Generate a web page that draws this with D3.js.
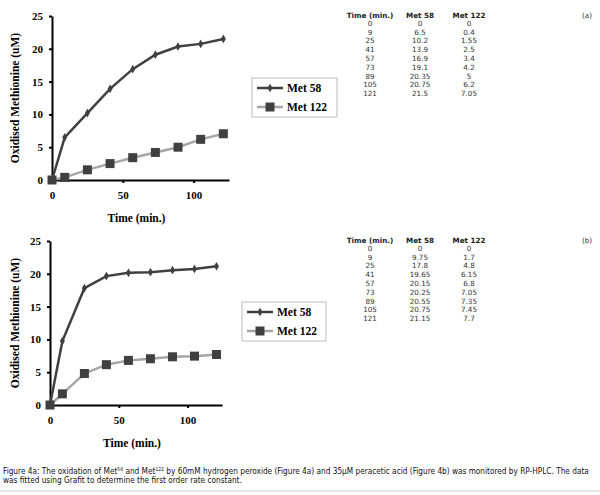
<!DOCTYPE html>
<html>
<head>
<meta charset="utf-8">
<title>Figure 4 - Oxidation of Met58 and Met122</title>
<script src="https://cdn.jsdelivr.net/npm/d3@7"></script>
<style>
  body { margin: 0; background: #fff; }
  svg { display: block; }
  .axis path, .axis line { stroke: #000; stroke-width: 2px; }
  .axis text { font-family: "Liberation Serif", serif; font-weight: bold; font-size: 11px; fill: #000; }
  .lbl { font-family: "Liberation Serif", serif; font-weight: bold; font-size: 11.5px; fill: #000; }
  .tbl { font-family: "DejaVu Sans", sans-serif; font-size: 7.2px; fill: #333; }
  .tblh { font-weight: bold; fill: #222; }
  .cap { font-family: "DejaVu Sans Condensed", "DejaVu Sans", sans-serif; font-size: 8.2px; fill: #111; }
</style>
</head>
<body>
<script>
// values as listed in the tables next to each plot
var times = [0, 9, 25, 41, 57, 73, 89, 105, 121];
var met58A = [0, 6.5, 10.2, 13.9, 16.9, 19.1, 20.35, 20.75, 21.5];
var met122A = [0, 0.4, 1.55, 2.5, 3.4, 4.2, 5, 6.2, 7.05];
var met58B = [0, 9.75, 17.8, 19.65, 20.15, 20.25, 20.55, 20.75, 21.15];
var met122B = [0, 1.7, 4.8, 6.15, 6.8, 7.05, 7.35, 7.45, 7.7];
var seriesNames = ["Met 58", "Met 122"];
var tableHeader = ["Time (min.)", "Met 58", "Met 122"];
var xTicks = [0, 50, 100];
var yTicks = [0, 5, 10, 15, 20, 25];

var svg = d3.select("body").append("svg")
    .attr("width", 600)
    .attr("height", 495);

var dark = "#404040";
var light = "#a6a6a6";

var panel = function(opt){
    var x = d3.scaleLinear().domain([0, 125]).range([opt.x0, opt.x1]);
    var y = d3.scaleLinear().domain([0, 25]).range([opt.y0, opt.y1]);

    svg.append("g")
       .attr("class", "axis")
       .attr("transform", "translate(0," + opt.y0 + ")")
       .call(d3.axisBottom(x).tickValues(xTicks).tickSize(3).tickPadding(8).tickSizeOuter(0));

    svg.append("g")
       .attr("class", "axis")
       .attr("transform", "translate(" + opt.x0 + ",0)")
       .call(d3.axisLeft(y).tickValues(yTicks).tickSize(3).tickPadding(6).tickSizeOuter(0));

    svg.append("text")
       .attr("class", "lbl")
       .attr("text-anchor", "middle")
       .attr("transform", "translate(19," + (opt.y0 + opt.y1) / 2 + ") rotate(-90)")
       .text("Oxidised Methionine (uM)");

    svg.append("text")
       .attr("class", "lbl")
       .attr("text-anchor", "middle")
       .attr("x", (opt.x0 + opt.x1) / 2 - 4)
       .attr("y", opt.y0 + 42)
       .text("Time (min.)");

    var line = d3.line()
        .x(function(d, i){ return x(times[i]); })
        .y(function(d){ return y(d); });

    svg.append("path")
       .datum(opt.b)
       .attr("d", line)
       .attr("fill", "none")
       .attr("stroke", light)
       .attr("stroke-width", 2.5);

    svg.append("g").selectAll("rect")
       .data(opt.b)
       .enter()
       .append("rect")
       .attr("x", function(d, i){ return x(times[i]) - 4.5; })
       .attr("y", function(d){ return y(d) - 4.5; })
       .attr("width", 9)
       .attr("height", 9)
       .attr("fill", dark);

    svg.append("path")
       .datum(opt.a)
       .attr("d", line)
       .attr("fill", "none")
       .attr("stroke", dark)
       .attr("stroke-width", 2.5);

    svg.append("g").selectAll("path")
       .data(opt.a)
       .enter()
       .append("path")
       .attr("d", d3.symbol().type(d3.symbolDiamond).size(22))
       .attr("transform", function(d, i){ return "translate(" + x(times[i]) + "," + y(d) + ")"; })
       .attr("fill", dark);

    // legend
    var lg = svg.append("g").attr("transform", "translate(" + opt.lx + "," + opt.ly + ")");
    lg.append("rect")
      .attr("width", opt.lw).attr("height", 39)
      .attr("fill", "#fff").attr("stroke", "#aaa").attr("stroke-width", 0.8);
    lg.append("line").attr("x1", 5).attr("x2", 31).attr("y1", 10).attr("y2", 10)
      .attr("stroke", dark).attr("stroke-width", 2.5);
    lg.append("path").attr("d", d3.symbol().type(d3.symbolDiamond).size(22))
      .attr("transform", "translate(18,10)").attr("fill", dark);
    lg.append("line").attr("x1", 5).attr("x2", 31).attr("y1", 29).attr("y2", 29)
      .attr("stroke", light).attr("stroke-width", 2.5);
    lg.append("rect").attr("x", 13.5).attr("y", 24.5).attr("width", 9).attr("height", 9)
      .attr("fill", dark);
    lg.selectAll("text.leg")
      .data(seriesNames)
      .enter()
      .append("text")
      .attr("class", "lbl leg")
      .attr("x", 35)
      .attr("y", function(d, i){ return 14 + i * 19; })
      .text(function(d){ return d; });

    // data table
    var cols = [370, 420, 469];
    var tg = svg.append("g");
    tg.selectAll("text.h")
      .data(tableHeader)
      .enter()
      .append("text")
      .attr("class", "tbl tblh h")
      .attr("text-anchor", "middle")
      .attr("x", function(d, i){ return cols[i]; })
      .attr("y", opt.ty)
      .text(function(d){ return d; });
    var rows = times.map(function(t, i){ return [t, opt.a[i], opt.b[i]]; });
    rows.forEach(function(r, j){
        tg.selectAll("text.r" + j)
          .data(r)
          .enter()
          .append("text")
          .attr("class", "tbl r" + j)
          .attr("text-anchor", "middle")
          .attr("x", function(d, i){ return cols[i]; })
          .attr("y", opt.ty + 8.3 + j * 8.8)
          .text(function(d){ return d; });
    });
    svg.append("text")
       .attr("class", "tbl")
       .attr("text-anchor", "middle")
       .attr("x", 587)
       .attr("y", opt.ty)
       .text(opt.tag);
};

panel({x0: 52, x1: 229, y0: 180, y1: 16, a: met58A, b: met122A,
       lx: 252, ly: 78, lw: 85, ty: 17.5, tag: "(a)"});
panel({x0: 50, x1: 222, y0: 405, y1: 241, a: met58B, b: met122B,
       lx: 242, ly: 302, lw: 84, ty: 242.5, tag: "(b)"});

// caption
var cap1 = svg.append("text").attr("class", "cap").attr("x", 3).attr("y", 473.5);
cap1.append("tspan").text("Figure 4a: The oxidation of Met");
cap1.append("tspan").attr("font-size", "5px").attr("dy", -3).text("58");
cap1.append("tspan").attr("dy", 3).text(" and Met");
cap1.append("tspan").attr("font-size", "5px").attr("dy", -3).text("122");
cap1.append("tspan").attr("dy", 3).text(" by 60mM hydrogen peroxide (Figure 4a) and 35\u03bcM peracetic acid (Figure 4b) was monitored by RP-HPLC. The data");
svg.append("text").attr("class", "cap").attr("x", 3).attr("y", 483)
   .text("was fitted using Grafit to determine the first order rate constant.");

svg.append("line")
   .attr("x1", 0).attr("x2", 600).attr("y1", 491).attr("y2", 491)
   .attr("stroke", "#c8c8c8").attr("stroke-width", 1);
</script>
</body>
</html>
